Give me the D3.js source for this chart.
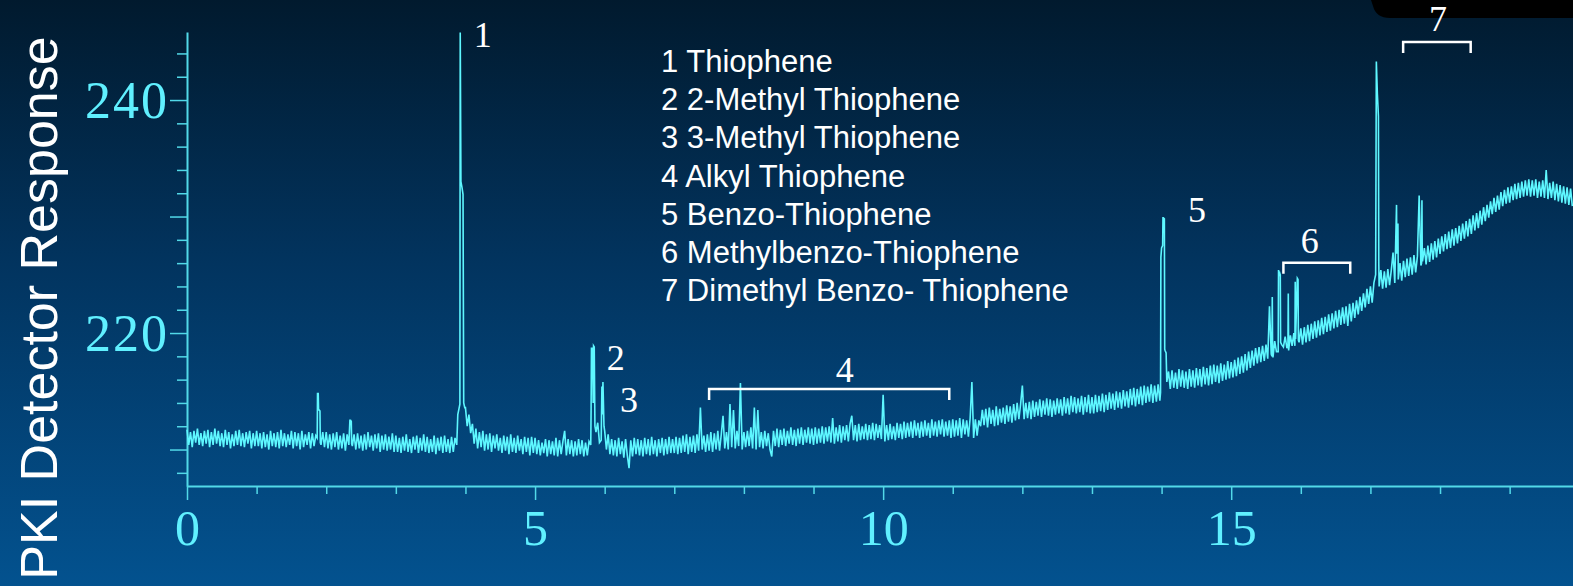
<!DOCTYPE html>
<html>
<head>
<meta charset="utf-8">
<script src="https://cdn.jsdelivr.net/npm/d3@7"></script>
<style>
  html, body { margin: 0; padding: 0; background: #02223d; }
  svg { display: block; }
</style>
</head>
<body>
<div id="chart-area"></div>
<script>
// chromatogram, PKI detector response read every 0.025 min
// one row per minute (row m starts at t = m)
var sampleStep = 0.025;
var trace = [
	[211.7, 210.4, 211.5, 210.2, 211.6, 210.6, 211.8, 210.4, 211.4, 210.3, 211.6, 210.5, 211.7, 210.2, 211.5, 210.4, 211.8, 210.5, 211.6, 210.3,
	 211.4, 210.2, 211.7, 210.4, 211.5, 210.1, 211.3, 210.3, 211.6, 210.4, 211.7, 210.3, 211.4, 210.2, 211.5, 210.5, 211.6, 210.1, 211.4, 210.3],
	[211.6, 210.3, 211.4, 210.1, 211.5, 210.2, 211.3, 210.0, 211.6, 210.3, 211.4, 210.2, 211.5, 210.1, 211.7, 210.3, 211.4, 210.2, 211.3, 210.4,
	 211.6, 210.1, 211.5, 210.3, 211.4, 210.0, 211.6, 210.2, 211.3, 210.4, 211.5, 210.1, 211.4, 210.3, 211.2, 214.8, 213.4, 210.4, 211.5, 210.2],
	[211.5, 210.1, 211.3, 210.0, 211.4, 210.2, 211.5, 210.0, 211.2, 210.1, 211.4, 209.9, 211.3, 210.4, 212.5, 210.3, 211.3, 210.0, 211.4, 210.1,
	 211.2, 209.9, 211.3, 210.0, 211.5, 210.2, 211.2, 209.9, 211.3, 210.1, 211.4, 209.8, 211.2, 210.0, 211.3, 209.9, 211.1, 210.0, 211.4, 209.8],
	[211.2, 209.8, 211.0, 209.7, 211.1, 209.9, 211.3, 209.8, 210.9, 209.7, 211.1, 210.0, 211.2, 209.7, 211.0, 209.9, 211.3, 209.8, 211.1, 209.7,
	 210.9, 209.8, 211.2, 209.6, 211.0, 209.9, 211.1, 209.7, 211.2, 209.8, 210.9, 209.7, 211.1, 209.8, 211.0, 210.4, 213.3, 245.8, 232.5, 214.0],
	[213.6, 212.0, 213.0, 211.4, 212.2, 210.5, 211.8, 210.1, 211.5, 210.2, 211.6, 209.9, 211.3, 210.0, 211.4, 209.8, 211.2, 210.1, 211.3, 209.9,
	 211.0, 209.7, 211.2, 209.9, 211.1, 209.6, 211.3, 209.8, 211.0, 209.7, 211.2, 209.9, 210.9, 209.6, 211.1, 209.8, 211.0, 209.5, 211.1, 209.7],
	[211.0, 209.6, 210.8, 209.5, 210.6, 209.7, 210.9, 209.4, 210.8, 209.6, 210.7, 209.5, 211.0, 209.4, 210.8, 209.6, 210.7, 211.6, 209.5, 210.9,
	 209.6, 210.8, 209.4, 210.7, 209.5, 210.9, 209.6, 210.8, 209.4, 210.6, 209.5, 210.7, 210.4, 218.7, 218.8, 211.5, 212.3, 210.6, 210.8, 215.8],
	[211.6, 210.0, 211.3, 209.6, 210.9, 209.5, 210.8, 209.4, 211.0, 209.6, 210.7, 209.3, 210.9, 209.5, 208.4, 210.8, 209.4, 211.0, 209.6, 210.9,
	 209.5, 210.8, 209.4, 211.0, 209.6, 210.9, 209.5, 211.1, 209.6, 210.8, 209.4, 210.9, 209.7, 211.0, 209.5, 210.9, 209.6, 211.1, 209.7, 210.9],
	[209.7, 211.1, 209.6, 211.0, 209.7, 211.2, 209.8, 211.3, 209.6, 211.1, 209.8, 211.2, 209.7, 211.3, 209.9, 213.6, 210.0, 211.2, 209.8, 211.3,
	 209.9, 211.5, 209.8, 211.4, 210.0, 211.6, 209.9, 211.3, 212.9, 210.1, 211.5, 210.0, 213.9, 210.2, 213.4, 210.1, 211.6, 210.3, 215.7, 210.0],
	[211.5, 210.2, 211.6, 210.3, 211.9, 210.1, 213.6, 210.0, 213.4, 210.2, 211.5, 210.1, 211.6, 210.3, 211.4, 210.0, 209.4, 211.6, 210.3, 211.8,
	 210.2, 211.7, 210.4, 211.8, 210.3, 211.6, 210.5, 211.9, 210.4, 211.7, 210.3, 211.8, 210.5, 211.9, 210.4, 211.7, 210.6, 211.9, 210.5, 211.8],
	[210.4, 211.9, 210.5, 211.8, 210.6, 212.0, 210.5, 211.9, 210.7, 212.0, 210.6, 212.7, 210.5, 211.9, 210.7, 212.1, 210.6, 212.0, 210.8, 212.1,
	 210.7, 212.2, 212.9, 210.8, 212.1, 210.7, 212.2, 210.8, 212.0, 210.9, 212.2, 210.8, 212.1, 210.9, 212.3, 210.8, 212.2, 211.0, 212.1, 210.9],
	[214.7, 210.7, 212.1, 210.8, 212.2, 210.9, 212.0, 210.8, 212.3, 211.0, 212.2, 210.9, 212.4, 211.0, 212.3, 211.1, 212.4, 211.0, 212.5, 211.2,
	 212.3, 211.0, 212.4, 211.1, 212.5, 211.2, 212.3, 211.0, 212.6, 211.2, 212.4, 211.1, 212.5, 211.3, 212.6, 211.1, 212.4, 211.2, 212.5, 211.0],
	[212.6, 211.1, 212.5, 211.2, 212.7, 211.0, 212.6, 211.3, 212.5, 211.1, 212.7, 215.8, 211.0, 212.6, 211.2, 212.5, 212.0, 213.4, 212.1, 213.5,
	 211.9, 213.6, 212.2, 213.4, 212.0, 213.7, 212.1, 213.5, 212.3, 213.6, 212.2, 213.8, 212.4, 213.7, 212.3, 213.9, 212.5, 214.0, 212.6, 213.9],
	[215.5, 212.6, 214.0, 212.7, 214.1, 212.6, 214.2, 212.8, 214.1, 212.9, 214.3, 212.8, 214.2, 213.0, 214.4, 212.9, 214.3, 212.8, 214.2, 213.0,
	 214.4, 213.1, 214.3, 212.9, 214.5, 213.1, 214.4, 213.0, 214.6, 213.2, 214.5, 213.1, 214.4, 213.2, 214.6, 213.0, 214.5, 213.2, 214.7, 213.1],
	[214.5, 213.1, 214.7, 213.2, 214.6, 213.3, 214.8, 213.2, 214.7, 213.4, 214.9, 213.5, 214.8, 213.4, 215.0, 213.6, 214.9, 213.5, 215.1, 213.7,
	 215.0, 213.6, 215.2, 213.8, 215.3, 213.7, 215.2, 213.9, 215.4, 213.8, 215.5, 214.0, 215.4, 214.1, 215.6, 214.0, 215.5, 214.1, 215.6, 214.2],
	[227.3, 229.9, 218.5, 215.8, 216.7, 215.2, 216.8, 215.3, 216.6, 215.2, 216.9, 215.4, 216.8, 215.3, 216.7, 215.2, 216.9, 215.4, 216.8, 215.3,
	 217.0, 215.5, 216.9, 215.4, 217.1, 215.6, 217.0, 215.5, 217.2, 215.6, 217.3, 215.8, 217.2, 215.7, 217.4, 215.9, 217.3, 216.0, 217.6, 216.1],
	[217.5, 216.2, 217.7, 216.3, 217.9, 216.5, 218.0, 216.6, 218.2, 216.8, 218.4, 217.0, 218.5, 217.2, 218.7, 217.4, 218.8, 217.5, 218.9, 217.6,
	 219.0, 217.8, 222.3, 218.2, 217.9, 219.3, 218.4, 218.4, 225.1, 219.0, 218.8, 219.7, 218.7, 218.5, 219.8, 218.9, 220.0, 219.5, 224.7, 219.2],
	[220.4, 219.0, 220.5, 219.2, 220.7, 219.3, 220.8, 219.5, 221.0, 219.6, 221.1, 219.8, 221.3, 219.9, 221.4, 220.1, 221.6, 220.2, 221.7, 220.4,
	 221.9, 220.5, 222.0, 220.7, 222.2, 220.8, 222.3, 220.6, 222.5, 221.0, 222.6, 221.3, 222.8, 221.6, 223.1, 221.9, 223.4, 222.2, 223.8, 222.5],
	[224.0, 222.6, 224.3, 225.0, 240.5, 224.0, 225.4, 223.8, 225.3, 223.9, 225.5, 224.1, 225.4, 226.9, 224.3, 231.0, 224.6, 226.0, 224.5, 226.2,
	 224.8, 226.4, 224.9, 226.5, 225.0, 226.7, 225.2, 226.6, 231.8, 225.8, 226.2, 227.3, 225.9, 227.5, 226.1, 227.7, 226.3, 227.9, 226.5, 228.1],
	[226.8, 228.3, 227.0, 228.5, 227.2, 228.7, 227.3, 228.9, 227.5, 229.0, 227.7, 229.2, 227.9, 229.4, 228.1, 229.6, 228.3, 229.8, 228.5, 230.1,
	 228.8, 230.3, 229.0, 230.5, 229.3, 230.8, 229.6, 231.0, 229.9, 231.3, 230.2, 231.6, 230.4, 231.8, 230.6, 232.1, 230.9, 232.3, 231.1, 232.5],
	[231.2, 232.6, 231.4, 232.8, 231.5, 232.9, 231.6, 233.0, 231.7, 233.1, 231.8, 233.2, 231.7, 233.1, 231.8, 233.2, 231.6, 233.0, 231.7, 233.1,
	 231.6, 234.0, 231.5, 232.9, 231.6, 233.0, 231.4, 232.8, 231.3, 232.7, 231.2, 232.6, 231.1, 232.5, 231.0, 232.4, 230.9]
];

// extra points that shape the sharp peaks between samples [time, response]
var peakPoints = [
	[1.87, 211.0], [1.885, 214.8], [1.89, 213.4], [1.91, 213.3], [1.915, 210.6],
	[2.34, 212.5], [2.36, 212.4], [2.365, 210.5],
	[3.89, 213.0], [3.92, 213.9], [3.935, 233.0], [3.965, 231.9], [3.99, 213.6],
	[5.805, 213.5], [5.81, 218.7], [5.835, 214.0], [5.84, 218.9], [5.86, 212.0],
	[5.96, 215.4], [5.965, 213.0], [5.99, 212.0],
	[13.985, 214.9], [13.99, 226.5], [14.015, 227.5], [14.02, 229.9], [14.04, 229.8], [14.045, 218.6], [14.065, 218.3],
	[15.585, 218.0], [15.59, 223.1], [15.595, 218.3],
	[15.68, 225.4], [15.69, 224.9], [15.705, 225.0], [15.71, 219.2],
	[15.815, 219.0], [15.82, 223.4],
	[15.915, 218.9], [15.92, 224.4], [15.96, 224.6], [15.965, 219.4],
	[17.085, 243.3], [17.115, 238.6], [17.12, 226.0],
	[17.38, 226.8], [17.395, 229.4],
	[17.735, 226.0], [17.74, 231.4], [17.745, 226.2]
];

var legendNames = [
	"1 Thiophene",
	"2 2-Methyl Thiophene",
	"3 3-Methyl Thiophene",
	"4 Alkyl Thiophene",
	"5 Benzo-Thiophene",
	"6 Methylbenzo-Thiophene",
	"7 Dimethyl Benzo- Thiophene"
];

// peak number labels
var peakLabels = ["1", "2", "3", "4", "5", "6", "7"];
var labelTimes = [4.25, 6.16, 6.35, 9.45, 14.51, 16.13, 17.97];
var labelValues = [244.55, 216.82, 213.22, 215.79, 229.53, 226.87, 245.92];

// brackets for peak groups 4, 6, 7
var bracketStart = [7.50, 15.75, 17.47];
var bracketEnd = [10.95, 16.71, 18.44];
var bracketLevel = [215.19, 226.03, 244.98];

var xTickLabels = [0, 5, 10, 15];
var yTickLabels = [220, 240];

var width = 1573;
var height = 586;
var axisColor = "#52d9e8";
var traceColor = "#5ef7ff";

var svg = d3.select("#chart-area")
	.append("svg")
	.attr("width", width)
	.attr("height", height);

var defs = svg.append("defs");
var grad = defs.append("linearGradient")
	.attr("id", "bg")
	.attr("x1", 0).attr("y1", 0)
	.attr("x2", 0).attr("y2", 1);
grad.append("stop").attr("offset", "0%").attr("stop-color", "#011a2e");
grad.append("stop").attr("offset", "45%").attr("stop-color", "#02345f");
grad.append("stop").attr("offset", "100%").attr("stop-color", "#03528f");

svg.append("rect")
	.attr("width", width)
	.attr("height", height)
	.attr("fill", "url(#bg)");

// black tab at top right
svg.append("path")
	.attr("d", "M1371,0 L1373,6 Q1376,18 1390,18 L1573,18 L1573,0 Z")
	.attr("fill", "#000");

var x = d3.scaleLinear()
	.domain([0, 19.91])
	.range([187, 1573]);

var y = d3.scaleLinear()
	.domain([206.87, 245.84])
	.range([486, 32]);

// X axis
var xAxisCall = d3.axisBottom(x)
	.tickValues(d3.range(0, 20))
	.tickSize(8)
	.tickSizeOuter(0)
	.tickFormat(d => xTickLabels.includes(d) ? d : "");

var xAxisGroup = svg.append("g")
	.attr("transform", "translate(0, 486)")
	.call(xAxisCall);

xAxisGroup.select(".domain")
	.attr("stroke", axisColor)
	.attr("stroke-width", 2);
xAxisGroup.selectAll(".tick line")
	.attr("stroke", axisColor)
	.attr("stroke-width", 1.5)
	.attr("y2", d => d % 5 === 0 ? 14 : 8);
xAxisGroup.selectAll(".tick text")
	.attr("y", 59)
	.attr("dy", 0)
	.attr("fill", "#60f0ff")
	.attr("font-family", "'Liberation Serif', 'Times New Roman', serif")
	.attr("font-size", "50px");

// Y axis
var yAxisCall = d3.axisLeft(y)
	.tickValues(d3.range(208, 246, 2))
	.tickSize(10)
	.tickSizeOuter(0)
	.tickFormat(d => yTickLabels.includes(d) ? d : "");

var yAxisGroup = svg.append("g")
	.attr("transform", "translate(187, 0)")
	.call(yAxisCall);

yAxisGroup.select(".domain")
	.attr("stroke", axisColor)
	.attr("stroke-width", 2);
yAxisGroup.selectAll(".tick line")
	.attr("stroke", axisColor)
	.attr("stroke-width", 1.5)
	.attr("x2", d => d % 10 === 0 ? -17 : -10);
yAxisGroup.selectAll(".tick text")
	.attr("x", -18)
	.attr("dy", "0.34em")
	.attr("fill", "#60f0ff")
	.attr("letter-spacing", "2px")
	.attr("font-family", "'Liberation Serif', 'Times New Roman', serif")
	.attr("font-size", "52px");

svg.append("text")
	.attr("transform", "translate(57, 308) rotate(-90)")
	.attr("text-anchor", "middle")
	.attr("fill", "#fff")
	.attr("font-family", "'Liberation Sans', Arial, sans-serif")
	.attr("font-size", "52px")
	.text("PKI Detector Response");

// trace: minute rows plus peak detail, sorted by time
var points = [];
trace.forEach((row, m) => {
	row.forEach((v, k) => points.push([Math.round((m + k * sampleStep) * 1000) / 1000, v]));
});
points = points.concat(peakPoints).sort((a, b) => a[0] - b[0]);

var line = d3.line()
	.x(d => x(d[0]))
	.y(d => y(d[1]));

svg.append("path")
	.datum(points)
	.attr("d", line)
	.attr("fill", "none")
	.attr("stroke", traceColor)
	.attr("stroke-width", 1.6);

// brackets
bracketStart.forEach((s, i) => {
	var x0 = x(s), x1 = x(bracketEnd[i]), yy = y(bracketLevel[i]);
	svg.append("path")
		.attr("d", `M${x0},${yy + 11} V${yy} H${x1} V${yy + 11}`)
		.attr("fill", "none")
		.attr("stroke", "#fff")
		.attr("stroke-width", 2.5);
});

// peak numbers
svg.selectAll(".peak-label")
	.data(peakLabels)
	.enter()
	.append("text")
	.attr("class", "peak-label")
	.attr("x", (d, i) => x(labelTimes[i]))
	.attr("y", (d, i) => y(labelValues[i]))
	.attr("text-anchor", "middle")
	.attr("fill", "#fff")
	.attr("font-family", "'Liberation Serif', 'Times New Roman', serif")
	.attr("font-size", "36px")
	.text(d => d);

// legend
svg.selectAll(".legend")
	.data(legendNames)
	.enter()
	.append("text")
	.attr("class", "legend")
	.attr("x", 661)
	.attr("y", (d, i) => 72 + i * 38.2)
	.attr("fill", "#fff")
	.attr("font-family", "'Liberation Sans', Arial, sans-serif")
	.attr("font-size", "31px")
	.text(d => d);
</script>
</body>
</html>
